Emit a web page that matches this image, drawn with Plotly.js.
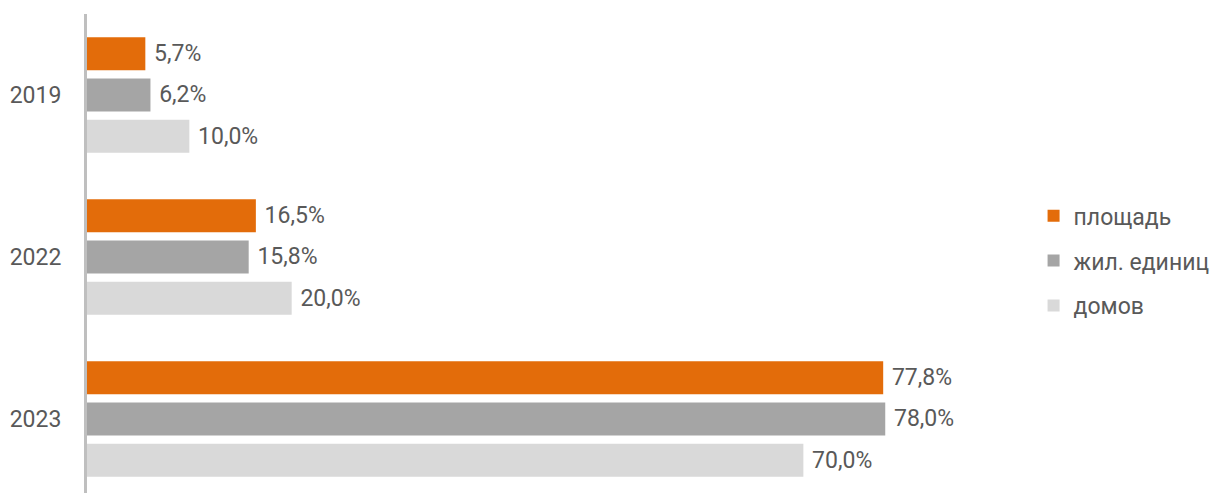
<!DOCTYPE html>
<html>
<head>
<meta charset="utf-8">
<script src="https://cdn.plot.ly/plotly-3.0.1.min.js"></script>
<style>html,body{margin:0;padding:0;background:#fff;}#chart{width:1215px;height:493px;}</style>
</head>
<body>
<div id="chart"></div>
<script>
const years = ["2019", "2022", "2023"];
const seriesNames = ["площадь", "жил. единиц", "домов"];
const area = [5.7, 16.5, 77.8];
const units = [6.2, 15.8, 78.0];
const houses = [10.0, 20.0, 70.0];
const colors = ["#E36C0A", "#A5A5A5", "#D9D9D9"];
const allValues = [area, units, houses];

const fmt = v => '\u00A0' + v.toFixed(1).replace('.', ',') + '%';
const font = {family: 'Roboto, "Noto Sans", sans-serif', size: 23, color: '#595959'};

const traces = allValues.map((vals, i) => ({
  type: 'bar',
  orientation: 'h',
  name: seriesNames[i],
  y: years,
  x: vals,
  text: vals.map(fmt),
  textposition: 'outside',
  cliponaxis: false,
  textfont: font,
  marker: {color: colors[i], line: {width: 0}},
  legendgroup: 'g' + i,
  hoverinfo: 'none'
}));

const layout = {
  width: 1215,
  height: 493,
  margin: {l: 87, r: 205, t: 14, b: 0},
  paper_bgcolor: '#fff',
  plot_bgcolor: '#fff',
  font: font,
  barmode: 'group',
  bargap: 0.236,
  bargroupgap: 0.2,
  xaxis: {range: [0, 89.8], visible: false, showgrid: false, zeroline: false},
  yaxis: {
    type: 'category',
    range: [2.457, -0.5],
    showline: true,
    linecolor: '#BFBFBF',
    linewidth: 3,
    showgrid: false,
    zeroline: false,
    ticks: 'outside',
    ticklen: 18,
    tickcolor: 'rgba(0,0,0,0)',
    tickfont: font
  },
  showlegend: true,
  legend: {
    x: 1.03, xanchor: 'left',
    y: 0.485, yanchor: 'middle',
    traceorder: 'grouped',
    tracegroupgap: 12,
    font: font,
    bgcolor: 'rgba(0,0,0,0)'
  }
};

Plotly.newPlot('chart', traces, layout, {staticPlot: true});
</script>
</body>
</html>
